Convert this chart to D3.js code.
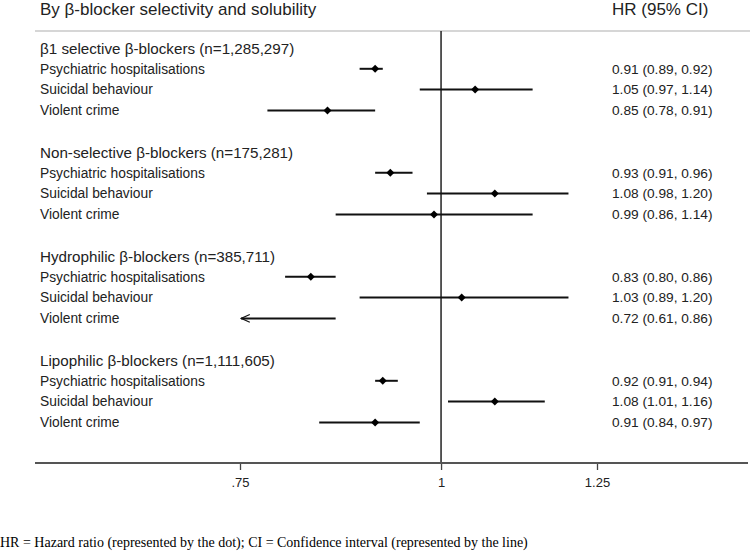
<!DOCTYPE html>
<html>
<head>
  <meta charset="utf-8">
  <title>Forest plot</title>
  <script src="https://d3js.org/d3.v7.min.js"></script>
  <style>
    body { margin: 0; background: #fff; }
    text { font-family: "Liberation Sans", Arial, sans-serif; fill: #222; }
    .foot { font-family: "Liberation Serif", "Times New Roman", serif; fill: #000; }
  </style>
</head>
<body>
<script>

  // chart size
  var w = 750;
  var h = 554;

  var groups = [
    "β1 selective β-blockers (n=1,285,297)",
    "Non-selective β-blockers (n=175,281)",
    "Hydrophilic β-blockers (n=385,711)",
    "Lipophilic β-blockers (n=1,111,605)"
  ];
  var outcomes = ["Psychiatric hospitalisations", "Suicidal behaviour", "Violent crime"];

  // one entry per group, in outcome order
  var hr    = [[0.91, 1.05, 0.85], [0.93, 1.08, 0.99], [0.83, 1.03, 0.72], [0.92, 1.08, 0.91]];
  var lower = [[0.89, 0.97, 0.78], [0.91, 0.98, 0.86], [0.80, 0.89, 0.61], [0.91, 1.01, 0.84]];
  var upper = [[0.92, 1.14, 0.91], [0.96, 1.20, 1.14], [0.86, 1.20, 0.86], [0.94, 1.16, 0.97]];

  var tickValues = [0.75, 1, 1.25];
  var tickLabels = [".75", "1", "1.25"];

  var svg = d3.select("body")
    .append("svg")
    .attr("width", w)
    .attr("height", h);

  // log scale for hazard ratios
  var xScale = d3.scaleLog()
    .domain([0.75, 1.25])
    .range([240, 597]);

  // row positions: header + 3 outcomes + blank per group
  var yScale = d3.scaleLinear()
    .domain([0, 18])
    .range([48, 422.4]);

  var rows = [];
  groups.forEach(function(g, gi) {
    outcomes.forEach(function(o, oi) {
      rows.push({
        label: o,
        idx: gi * 5 + oi + 1,
        hr: hr[gi][oi],
        lo: lower[gi][oi],
        hi: upper[gi][oi]
      });
    });
  });

  var xMin = xScale.domain()[0];

  // open arrowhead for CIs running off the left of the axis
  svg.append("defs").append("marker")
    .attr("id", "arrow")
    .attr("viewBox", "0 0 10 10")
    .attr("refX", 1)
    .attr("refY", 5)
    .attr("markerWidth", 5.5)
    .attr("markerHeight", 5.5)
    .attr("markerUnits", "strokeWidth")
    .attr("orient", "auto")
    .append("path")
    .attr("d", "M9,1.5 L1,5 L9,8.5")
    .attr("fill", "none")
    .attr("stroke", "#111")
    .attr("stroke-width", 1.1);

  // header texts
  svg.append("text")
    .attr("x", 40).attr("y", 15)
    .attr("font-size", "17px")
    .text("By β-blocker selectivity and solubility");

  svg.append("text")
    .attr("x", 612).attr("y", 15)
    .attr("font-size", "17px")
    .text("HR (95% CI)");

  // light separator under header
  svg.append("line")
    .attr("x1", 35).attr("x2", 750)
    .attr("y1", 31).attr("y2", 31)
    .attr("stroke", "#c8c8c8")
    .attr("stroke-width", 1.5);

  // reference line at HR = 1
  svg.append("line")
    .attr("x1", xScale(1)).attr("x2", xScale(1))
    .attr("y1", 31).attr("y2", 463)
    .attr("stroke", "#222")
    .attr("stroke-width", 1.5);

  // group headers
  svg.selectAll("text.group")
    .data(groups)
    .enter()
    .append("text")
    .attr("class", "group")
    .attr("x", 40)
    .attr("y", function(d, i) { return yScale(i * 5) + 5.5; })
    .attr("font-size", "15.2px")
    .text(function(d) { return d; });

  // outcome labels
  svg.selectAll("text.row")
    .data(rows)
    .enter()
    .append("text")
    .attr("class", "row")
    .attr("x", 40)
    .attr("y", function(d) { return yScale(d.idx) + 4.8; })
    .attr("font-size", "13.8px")
    .text(function(d) { return d.label; });

  // HR (CI) text
  svg.selectAll("text.hr")
    .data(rows)
    .enter()
    .append("text")
    .attr("class", "hr")
    .attr("x", 612)
    .attr("y", function(d) { return yScale(d.idx) + 4.8; })
    .attr("font-size", "13.7px")
    .text(function(d) {
      return d.hr.toFixed(2) + " (" + d.lo.toFixed(2) + ", " + d.hi.toFixed(2) + ")";
    });

  // CI lines (clipped at axis minimum with an arrow)
  svg.selectAll("line.ci")
    .data(rows)
    .enter()
    .append("line")
    .attr("class", "ci")
    .attr("x1", function(d) { return xScale(Math.max(d.lo, xMin)) + (d.lo < xMin ? 1 : 0); })
    .attr("x2", function(d) { return xScale(d.hi); })
    .attr("y1", function(d) { return yScale(d.idx); })
    .attr("y2", function(d) { return yScale(d.idx); })
    .attr("stroke", "#111")
    .attr("stroke-width", 2)
    .attr("marker-start", function(d) { return d.lo < xMin ? "url(#arrow)" : null; });

  // point estimates (hidden if outside the axis)
  svg.selectAll("path.dot")
    .data(rows.filter(function(d) { return d.hr >= xMin; }))
    .enter()
    .append("path")
    .attr("class", "dot")
    .attr("d", d3.symbol().type(d3.symbolSquare).size(32))
    .attr("transform", function(d) {
      return "translate(" + xScale(d.hr) + "," + yScale(d.idx) + ") rotate(45)";
    })
    .attr("fill", "#000");

  // x axis
  var xAxis = d3.axisBottom(xScale)
    .tickValues(tickValues)
    .tickFormat(function(d, i) { return tickLabels[i]; })
    .tickSize(7)
    .tickPadding(8);

  var gx = svg.append("g")
    .attr("transform", "translate(0,463)")
    .call(xAxis);

  gx.select(".domain").remove();
  gx.selectAll(".tick line").attr("stroke", "#444").attr("stroke-width", 1.3);
  gx.selectAll(".tick text")
    .attr("font-family", "Liberation Sans, Arial, sans-serif")
    .attr("font-size", "13px")
    .attr("fill", "#2a3340");

  gx.append("line")
    .attr("x1", 35).attr("x2", 748)
    .attr("y1", 0).attr("y2", 0)
    .attr("stroke", "#555")
    .attr("stroke-width", 2);

  // footnote
  svg.append("text")
    .attr("class", "foot")
    .attr("x", 0).attr("y", 547)
    .attr("font-size", "14px")
    .text("HR = Hazard ratio (represented by the dot); CI = Confidence interval (represented by the line)");

</script>
</body>
</html>
